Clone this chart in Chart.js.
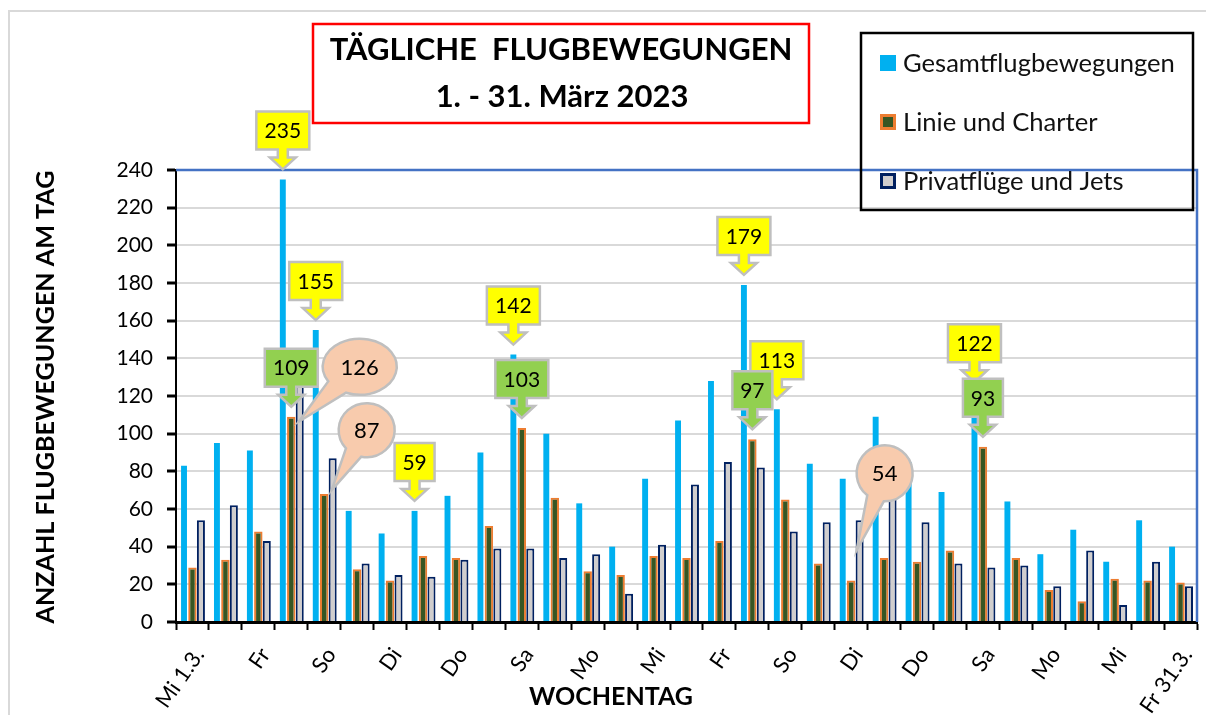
<!DOCTYPE html>
<html>
<head>
<meta charset="utf-8">
<script src="https://cdn.jsdelivr.net/npm/chart.js@4.4.1/dist/chart.umd.min.js"></script>
<style>
  body { margin: 0; background: #fff; }
</style>
</head>
<body>
<canvas id="flugChart" width="1206" height="715"></canvas>
<script>
// Tage im März 2023
const tage = ['Mi 1.3.', 'Do', 'Fr', 'Sa', 'So', 'Mo', 'Di', 'Mi', 'Do', 'Fr', 'Sa', 'So', 'Mo', 'Di', 'Mi', 'Do',
    'Fr', 'Sa', 'So', 'Mo', 'Di', 'Mi', 'Do', 'Fr', 'Sa', 'So', 'Mo', 'Di', 'Mi', 'Do', 'Fr 31.3.'];

const gesamt = [83, 95, 91, 235, 155, 59, 47, 59, 67, 90, 142, 100, 63, 40, 76, 107,
    128, 179, 113, 84, 76, 109, 85, 69, 122, 64, 36, 49, 32, 54, 40];
const linie = [29, 33, 48, 109, 68, 28, 22, 35, 34, 51, 103, 66, 27, 25, 35, 34,
    43, 97, 65, 31, 22, 34, 32, 38, 93, 34, 17, 11, 23, 22, 21];
const privat = [54, 62, 43, 126, 87, 31, 25, 24, 33, 39, 39, 34, 36, 15, 41, 73,
    85, 82, 48, 53, 54, 75, 53, 31, 29, 30, 19, 38, 9, 32, 19];

const yTicks = [0, 20, 40, 60, 80, 100, 120, 140, 160, 180, 200, 220, 240];

// Beschriftete Spitzen (Index des Tages)
const gelbIdx = [3, 4, 7, 10, 17, 18, 24];   // Gesamt
const gruenIdx = [3, 10, 17, 24];            // Linie und Charter
const blaseIdx = [3, 4, 20];                 // Privatflüge

// Lage der Sprechblasen (Spitze relativ zum Balken, Mitte relativ zur Spitze)
const blaseLage = [
    { dx: -1, dy: 37, cx: 61, cy: -55, rx: 37, ry: 28 },
    { dx: -1, dy: 32, cx: 35, cy: -60, rx: 28, ry: 27 },
    { dx: -3, dy: 30, cx: 28, cy: -77, rx: 28, ry: 28 }
];

const FONT = 'Lato, "Open Sans", sans-serif';

function fitFont(ctx, text, width, weight) {
    ctx.font = `${weight} 100px ${FONT}`;
    const size = 100 * width / ctx.measureText(text).width;
    return size;
}

// ====== Pfeil-Legenden (gelb / grün) ======
function pfeilBox(ctx, x, tipY, text, fill) {
    ctx.font = `21px ${FONT}`;
    const w = Math.round(ctx.measureText(text).width + 16);
    const top = tipY - 58, bot = tipY - 20;
    ctx.beginPath();
    ctx.moveTo(x - w / 2, top);
    ctx.lineTo(x + w / 2, top);
    ctx.lineTo(x + w / 2, bot);
    ctx.lineTo(x + 5, bot);
    ctx.lineTo(x + 5, tipY - 12);
    ctx.lineTo(x + 13, tipY - 12);
    ctx.lineTo(x, tipY);
    ctx.lineTo(x - 13, tipY - 12);
    ctx.lineTo(x - 5, tipY - 12);
    ctx.lineTo(x - 5, bot);
    ctx.lineTo(x - w / 2, bot);
    ctx.closePath();
    ctx.fillStyle = fill;
    ctx.fill();
    ctx.strokeStyle = '#BFBFBF';
    ctx.lineWidth = 2.5;
    ctx.stroke();
    ctx.fillStyle = '#000';
    ctx.textAlign = 'center';
    ctx.textBaseline = 'middle';
    ctx.fillText(text, x, (top + bot) / 2 + 1);
}

// ====== Sprechblasen (oval) ======
function blase(ctx, tipX, tipY, l, text) {
    const cx = tipX + l.cx, cy = tipY + l.cy;
    const a = Math.atan2((tipY - cy) / l.ry, (tipX - cx) / l.rx);
    const d = 0.32;
    ctx.beginPath();
    ctx.ellipse(cx, cy, l.rx, l.ry, 0, a + d, a - d + 2 * Math.PI);
    ctx.lineTo(tipX, tipY);
    ctx.closePath();
    ctx.fillStyle = '#F8CBAD';
    ctx.fill();
    ctx.strokeStyle = '#BFBFBF';
    ctx.lineWidth = 2.5;
    ctx.stroke();
    ctx.fillStyle = '#000';
    ctx.font = `22px ${FONT}`;
    ctx.textAlign = 'center';
    ctx.textBaseline = 'middle';
    ctx.fillText(text, cx, cy + 1);
}

const deko = {
    id: 'deko',
    beforeDraw(chart) {
        const ctx = chart.ctx;
        ctx.save();
        ctx.strokeStyle = '#D9D9D9';
        ctx.lineWidth = 2;
        ctx.strokeRect(9, 11, 1300, 800);
        ctx.restore();
    },
    beforeDatasetsDraw(chart) {
        const ctx = chart.ctx, a = chart.chartArea;
        ctx.save();
        ctx.strokeStyle = '#4472C4';
        ctx.lineWidth = 2.5;
        ctx.beginPath();
        ctx.moveTo(a.left, a.top);
        ctx.lineTo(a.right, a.top);
        ctx.lineTo(a.right, a.bottom);
        ctx.stroke();
        ctx.restore();
    },
    afterDatasetsDraw(chart) {
        const ctx = chart.ctx;
        ctx.save();
        const m0 = chart.getDatasetMeta(0).data;
        const m1 = chart.getDatasetMeta(1).data;
        const m2 = chart.getDatasetMeta(2).data;

        blaseIdx.forEach((i, k) => {
            const l = blaseLage[k];
            blase(ctx, m2[i].x + l.dx, m2[i].y + l.dy, l, String(privat[i]));
        });
        gelbIdx.forEach(i => pfeilBox(ctx, m0[i].x, m0[i].y - 10, String(gesamt[i]), '#FFFF00'));
        gruenIdx.forEach(i => pfeilBox(ctx, m1[i].x, m1[i].y - 10, String(linie[i]), '#92D050'));
        ctx.restore();
    },
    afterDraw(chart) {
        const ctx = chart.ctx;
        ctx.save();

        // Titel
        ctx.fillStyle = '#fff';
        ctx.fillRect(313, 24, 496, 99);
        ctx.strokeStyle = '#FF0000';
        ctx.lineWidth = 2.5;
        ctx.strokeRect(313, 24, 496, 99);
        const t1 = 'TÄGLICHE  FLUGBEWEGUNGEN', t2 = '1. - 31. März 2023';
        const ts = fitFont(ctx, t1, 463, 'bold');
        ctx.font = `bold ${ts}px ${FONT}`;
        ctx.fillStyle = '#000';
        ctx.textAlign = 'center';
        ctx.textBaseline = 'middle';
        ctx.fillText(t1, 561, 50);
        ctx.fillText(t2, 562, 97);

        // Achsentitel
        const ys = fitFont(ctx, 'ANZAHL FLUGBEWEGUNGEN AM TAG', 453, 'bold');
        ctx.font = `bold ${ys}px ${FONT}`;
        ctx.save();
        ctx.translate(46, 397);
        ctx.rotate(-Math.PI / 2);
        ctx.fillText('ANZAHL FLUGBEWEGUNGEN AM TAG', 0, 0);
        ctx.restore();
        const xs = fitFont(ctx, 'WOCHENTAG', 164, 'bold');
        ctx.font = `bold ${xs}px ${FONT}`;
        ctx.fillText('WOCHENTAG', 611, 697);

        // Legende
        ctx.strokeStyle = '#000';
        ctx.lineWidth = 2.5;
        ctx.strokeRect(861, 33, 332, 177);
        const ls = fitFont(ctx, chart.data.datasets[0].label, 272, 'normal');
        const rows = [63, 122, 181];
        chart.data.datasets.forEach((ds, k) => {
            const y = rows[k];
            ctx.fillStyle = ds.backgroundColor;
            ctx.fillRect(880, y - 8, 16, 16);
            if (ds.borderColor) {
                ctx.strokeStyle = ds.borderColor;
                ctx.lineWidth = 3;
                ctx.strokeRect(881.5, y - 6.5, 13, 13);
            }
            ctx.fillStyle = '#111';
            ctx.font = `${ls}px ${FONT}`;
            ctx.textAlign = 'left';
            ctx.fillText(ds.label, 903, y + 1);
        });
        ctx.restore();
    }
};

new Chart(document.getElementById('flugChart'), {
    type: 'bar',
    data: {
        labels: tage,
        datasets: [{
            label: 'Gesamtflugbewegungen',
            data: gesamt,
            backgroundColor: '#00B0F0',
            borderWidth: 0,
            barPercentage: 0.7,
            categoryPercentage: 0.77
        }, {
            label: 'Linie und Charter',
            data: linie,
            backgroundColor: '#375623',
            borderColor: '#ED7D31',
            borderWidth: 2,
            barPercentage: 1.0,
            categoryPercentage: 0.77
        }, {
            label: 'Privatflüge und Jets',
            data: privat,
            backgroundColor: '#D0CECE',
            borderColor: '#002060',
            borderWidth: 2,
            barPercentage: 0.95,
            categoryPercentage: 0.77
        }]
    },
    options: {
        responsive: false,
        animation: false,
        layout: { padding: { top: 170, right: 9, left: 0, bottom: 0 } },
        plugins: {
            legend: { display: false },
            tooltip: { enabled: false },
            title: { display: false }
        },
        scales: {
            x: {
                grid: { drawOnChartArea: false, tickColor: '#000', tickLength: 8, tickWidth: 2, offset: true },
                border: { color: '#000', width: 3 },
                ticks: {
                    autoSkip: false,
                    minRotation: 55,
                    maxRotation: 55,
                    padding: 13,
                    labelOffset: 7,
                    color: '#000',
                    font: { family: FONT, size: 22 },
                    callback: (v, i) => i % 2 === 0 ? tage[i] : ''
                },
                afterFit: s => {
                    s.height = 93;
                    s.paddingLeft = 0;
                    s.paddingRight = 0;
                }
            },
            y: {
                min: yTicks[0],
                max: yTicks[yTicks.length - 1],
                grid: { color: '#D9D9D9', lineWidth: 2, tickColor: '#000', tickLength: 9, tickWidth: 3 },
                border: { color: '#000', width: 2 },
                ticks: {
                    stepSize: yTicks[1] - yTicks[0],
                    padding: 14,
                    color: '#000',
                    font: { family: FONT, size: 21 }
                },
                afterFit: s => { s.width = 176; }
            }
        }
    },
    plugins: [deko]
});
</script>
</body>
</html>
